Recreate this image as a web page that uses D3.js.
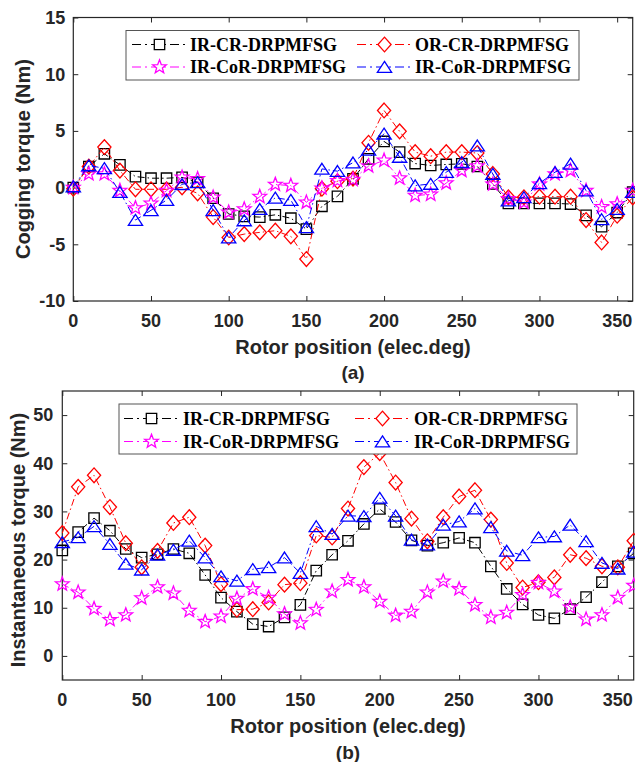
<!DOCTYPE html>
<html>
<head>
<meta charset="utf-8">
<script src="https://cdn.jsdelivr.net/npm/d3@7"></script>
<style>
html,body{margin:0;padding:0;background:#fff;}
svg{display:block;}
</style>
</head>
<body>
<svg id="chart" width="635" height="762"></svg>
<script>
// ---------------- data ----------------
const angles = [0,10,20,30,40,50,60,70,80,90,100,110,120,130,140,150,160,170,180,190,200,210,220,230,240,250,260,270,280,290,300,310,320,330,340,350,360];
const xTicks = [0,50,100,150,200,250,300,350];
const cogYTicks = [-10,-5,0,5,10,15];
const instYTicks = [0,10,20,30,40,50];
const seriesNames = ["IR-CR-DRPMFSG","OR-CR-DRPMFSG","IR-CoR-DRPMFSG","IR-CoR-DRPMFSG"];

const cogIRCR  = [0,1.86,2.98,2.0,0.97,0.83,0.83,0.9,0.47,-0.94,-2.33,-2.54,-2.6,-2.4,-2.7,-3.66,-1.65,-0.77,0.77,2.54,4.07,3.13,2.12,1.95,2.04,2.1,1.86,0.32,-1.39,-1.39,-1.39,-1.39,-1.45,-2.45,-3.45,-2.2,-0.4];
const cogORCR  = [-0.1,1.86,3.57,1.5,-0.15,-0.15,-0.15,0.03,-0.5,-2.6,-4.4,-4.1,-3.95,-3.8,-4.3,-6.3,-0.1,0.56,0.8,3.95,6.8,4.96,3.13,2.77,3.13,3.13,3.05,1.2,-0.86,-0.86,-0.8,-0.8,-0.8,-2.86,-4.84,-2.48,-0.86];
const cogIRCoRm = [0,1.2,1.2,-0.27,-1.8,-1.39,-0.27,0.9,0.77,-0.86,-2.18,-1.9,-0.8,0.27,0.18,-1.3,-0.06,0.6,0.7,1.9,2.4,0.83,-0.7,-0.6,0.4,1.5,1.9,0.3,-1.0,-1.3,0.3,1.2,1.5,-0.27,-1.7,-1.45,-0.27];
const cogIRCoRb = [0.1,1.95,1.7,-0.4,-2.86,-2.0,-1.1,0.3,0.47,-2.0,-4.4,-2.9,-1.9,-0.9,-1.1,-3.5,1.65,1.45,2.2,3.33,4.75,2.7,0.18,0.32,1.36,2.24,3.7,1.2,-1.15,-0.86,0.38,1.36,2.1,-0.27,-2.8,-1.9,-0.4];

const instIRCR  = [21.9,25.7,28.6,26.0,22.2,20.4,21.1,22.2,21.3,16.8,12.1,9.2,6.6,6.1,8.0,10.6,17.7,21.0,23.9,27.4,30.5,27.8,24.0,22.9,23.5,24.5,23.5,18.6,13.9,10.7,8.5,7.8,9.7,12.2,15.3,18.6,21.3];
const instORCR  = [25.5,35.1,37.5,30.9,23.4,18.4,21.8,27.6,28.8,22.9,14.9,9.6,9.7,11.1,14.8,15.1,25.0,24.6,30.6,39.2,42.1,36.0,28.5,23.8,28.8,33.1,34.4,28.3,19.3,14.2,15.3,16.3,21.0,20.3,18.6,18.4,23.9];
const instIRCoRm = [14.9,13.2,9.8,7.5,8.5,12.0,14.3,13.0,9.4,7.1,8.2,11.9,13.9,12.1,8.7,6.8,9.6,13.4,15.8,14.3,11.3,8.4,9.2,13.2,15.5,13.9,10.6,8.0,9.0,12.7,15.2,13.4,10.1,7.6,8.5,12.1,14.6];
const instIRCoRb = [23.6,24.6,26.9,23.2,19.1,17.9,21.0,22.0,23.9,20.4,16.5,15.6,18.0,18.4,20.4,17.2,26.9,25.3,29.1,29.0,32.8,29.1,24.1,23.1,27.2,27.9,30.6,26.7,21.8,20.9,24.6,24.8,27.2,23.8,19.3,18.1,21.6];

// ---------------- styles ----------------
const colors = ["#000000","#ff0000","#ff00ff","#0000ff"];
const TXT = "#262626";
const SANS = "'Liberation Sans', Arial, Helvetica, sans-serif";
const SERIF = "'Liberation Serif', 'Times New Roman', serif";

// custom marker shapes (size = nominal radius in px)
const mkSquare = {draw(c, r){ c.rect(-r,-r,2*r,2*r); }};
const mkDiamond = {draw(c, r){ c.moveTo(0,-r*1.12); c.lineTo(r,0); c.lineTo(0,r*1.12); c.lineTo(-r,0); c.closePath(); }};
const mkTriangle = {draw(c, r){ c.moveTo(0,-r*0.85); c.lineTo(r*1.08,r*0.8); c.lineTo(-r*1.08,r*0.8); c.closePath(); }};
const mkStar = {draw(c, r){
  const ri = r*0.42;
  for(let i=0;i<10;i++){
    const a = -Math.PI/2 + i*Math.PI/5;
    const rr = i%2===0 ? r : ri;
    const x = rr*Math.cos(a), y = rr*Math.sin(a);
    if(i===0) c.moveTo(x,y); else c.lineTo(x,y);
  }
  c.closePath();
}};
const markers = [[mkSquare,5.2],[mkDiamond,6.6],[mkStar,7.2],[mkTriangle,6.6]];

const svg = d3.select("#chart");

function panel(cfg){
  const {left,right,top,bottom,yDomain,yTicks,series,yTitle,yTitleX,yTitleY,yLabelGap,
         tickLabelY,xTitleY,capY,cap,legend} = cfg;
  const x = d3.scaleLinear().domain([0,360]).range([left,right]);
  const y = d3.scaleLinear().domain(yDomain).range([bottom,top]);
  const g = svg.append("g");

  // axes (ticks inward on all sides, MATLAB box)
  const tl = 5;
  const axB = g.append("g").attr("transform",`translate(0,${bottom})`)
    .call(d3.axisBottom(x).tickValues(xTicks).tickSize(-tl).tickPadding(0).tickFormat(""));
  const axT = g.append("g").attr("transform",`translate(0,${top})`)
    .call(d3.axisTop(x).tickValues(xTicks).tickSize(-tl).tickFormat(""));
  const axL = g.append("g").attr("transform",`translate(${left},0)`)
    .call(d3.axisLeft(y).tickValues(yTicks).tickSize(-tl).tickFormat(""));
  const axR = g.append("g").attr("transform",`translate(${right},0)`)
    .call(d3.axisRight(y).tickValues(yTicks).tickSize(-tl).tickFormat(""));
  [axB,axT,axL,axR].forEach(a=>{
    a.select(".domain").remove();
    a.selectAll("line").attr("stroke",TXT).attr("stroke-width",1);
  });
  g.append("rect").attr("x",left).attr("y",top).attr("width",right-left).attr("height",bottom-top)
    .attr("fill","none").attr("stroke",TXT).attr("stroke-width",1.2);

  // tick labels
  g.selectAll(".xl").data(xTicks).enter().append("text")
    .attr("x",d=>x(d)).attr("y",tickLabelY).attr("text-anchor","middle").attr("dy","0.35em")
    .attr("font-family",SANS).attr("font-weight","bold").attr("font-size",18).attr("fill",TXT)
    .text(d=>d);
  g.selectAll(".yl").data(yTicks).enter().append("text")
    .attr("x",left-yLabelGap).attr("y",d=>y(d)).attr("text-anchor","end").attr("dy","0.35em")
    .attr("font-family",SANS).attr("font-weight","bold").attr("font-size",18).attr("fill",TXT)
    .text(d=>d);

  // titles
  g.append("text").attr("x",(left+right)/2).attr("y",xTitleY).attr("dy","0.35em")
    .attr("text-anchor","middle").attr("font-family",SANS).attr("font-weight","bold")
    .attr("font-size",20).attr("fill",TXT).text("Rotor position (elec.deg)");
  g.append("text").attr("x",(left+right)/2).attr("y",capY).attr("dy","0.35em")
    .attr("text-anchor","middle").attr("font-family",SANS).attr("font-weight","bold")
    .attr("font-size",19).attr("fill",TXT).text(cap);
  g.append("text").attr("transform",`translate(${yTitleX},${yTitleY}) rotate(-90)`).attr("dy","0.35em")
    .attr("text-anchor","middle").attr("font-family",SANS).attr("font-weight","bold")
    .attr("font-size",20).attr("fill",TXT).text(yTitle);

  // data
  const line = d3.line().x((d,i)=>x(angles[i])).y(d=>y(d));
  series.forEach((vals,si)=>{
    const sg = g.append("g");
    sg.append("path").datum(vals).attr("d",line).attr("fill","none")
      .attr("stroke",colors[si]).attr("stroke-width",1).attr("stroke-dasharray","7,3,1.5,3");
    const [shape,r] = markers[si];
    sg.selectAll("path.m").data(vals).enter().append("path").attr("class","m")
      .attr("transform",(d,i)=>`translate(${x(angles[i])},${y(d)})`)
      .attr("d",d3.symbol().type(shape).size(r))
      .attr("fill","none").attr("stroke",colors[si]).attr("stroke-width",1.3);
  });

  // legend
  const L = legend;
  const lg = g.append("g");
  lg.append("rect").attr("x",L.x).attr("y",L.y).attr("width",L.w).attr("height",L.h)
    .attr("fill","#fff").attr("stroke","#555").attr("stroke-width",1);
  const entries = [
    {si:0,col:0,row:0},{si:1,col:1,row:0},{si:2,col:0,row:1},{si:3,col:1,row:1}
  ];
  entries.forEach(e=>{
    const lx = L.colX[e.col], ly = L.rowY[e.row];
    lg.append("line").attr("x1",lx).attr("x2",lx+L.lineLen).attr("y1",ly).attr("y2",ly)
      .attr("stroke",colors[e.si]).attr("stroke-width",1).attr("stroke-dasharray","9,4,2,4");
    const [shape,r] = markers[e.si];
    lg.append("path").attr("transform",`translate(${lx+L.lineLen/2},${ly})`)
      .attr("d",d3.symbol().type(shape).size(r))
      .attr("fill","#fff").attr("stroke",colors[e.si]).attr("stroke-width",1.3);
    lg.append("text").attr("x",lx+L.lineLen+L.textGap).attr("y",ly).attr("dy","0.35em")
      .attr("font-family",SERIF).attr("font-weight","bold").attr("font-size",18).attr("fill","#000")
      .text(seriesNames[e.si]);
  });
}

panel({
  left:73.3,right:632.7,top:17.5,bottom:301,
  yDomain:[-10,15],yTicks:cogYTicks,
  series:[cogIRCR,cogORCR,cogIRCoRm,cogIRCoRb],
  yTitle:"Cogging torque (Nm)",yTitleX:23,yTitleY:159,yLabelGap:8,
  tickLabelY:321,xTitleY:347,capY:372,cap:"(a)",
  legend:{x:126,y:30.5,w:453,h:49.5,colX:[132,357],rowY:[44.5,67],lineLen:55,textGap:3}
});

panel({
  left:62.3,right:633.7,top:391,bottom:680,
  yDomain:[-5,55],yTicks:instYTicks,
  series:[instIRCR,instORCR,instIRCoRm,instIRCoRb],
  yTitle:"Instantaneous torque (Nm)",yTitleX:18,yTitleY:540,yLabelGap:9,
  tickLabelY:700,xTitleY:726,capY:752,cap:"(b)",
  legend:{x:119,y:404,w:458,h:50,colX:[124,355],rowY:[418.5,441.5],lineLen:55,textGap:4}
});
</script>
</body>
</html>
